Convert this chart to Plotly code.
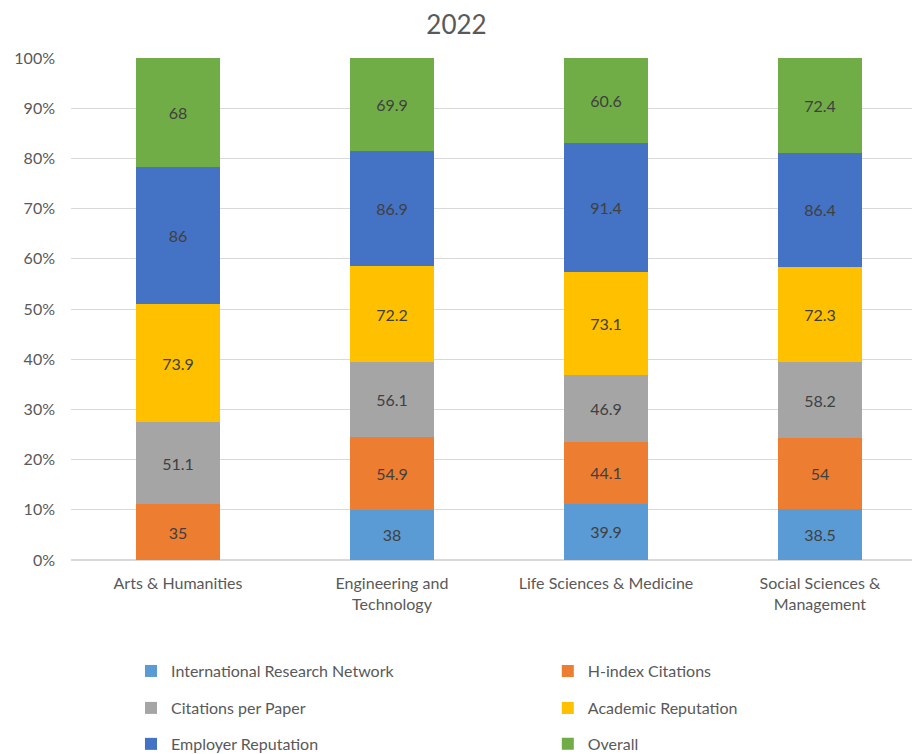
import plotly.graph_objects as go

categories = ["Arts & Humanities", "Engineering and<br>Technology", "Life Sciences & Medicine", "Social Sciences &<br>Management"]
series_names = ["International Research Network", "H-index Citations", "Citations per Paper",
                "Academic Reputation", "Employer Reputation", "Overall"]
irn = [None, 38, 39.9, 38.5]
hindex = [35, 54.9, 44.1, 54]
cpp = [51.1, 56.1, 46.9, 58.2]
acad = [73.9, 72.2, 73.1, 72.3]
employer = [86, 86.9, 91.4, 86.4]
overall = [68, 69.9, 60.6, 72.4]
colors = ["#5B9BD5", "#ED7D31", "#A5A5A5", "#FFC000", "#4472C4", "#70AD47"]
tick_vals = [0, 10, 20, 30, 40, 50, 60, 70, 80, 90, 100]
tick_text = [f"{v}%" for v in tick_vals]

FONT = "Lato"
all_series = [irn, hindex, cpp, acad, employer, overall]
legend_ids = ["legend2", "legend3", "legend4", "legend5", "legend6", "legend7"]
# legend positions (container fractions): two columns, three rows
leg_x = [0.1435, 0.6, 0.1435, 0.6, 0.1435, 0.6]
leg_y = [0.110, 0.110, 0.061, 0.061, 0.0133, 0.0133]

fig = go.Figure()
for name, vals, col, lg in zip(series_names, all_series, colors, legend_ids):
    fig.add_trace(go.Bar(
        x=categories, y=vals, name=name, marker_color=col, marker_line_width=0,
        text=[("" if v is None else f"{v:g}") for v in vals],
        textposition="inside", insidetextanchor="middle",
        textfont=dict(family=FONT, size=16, color="#404040"),
        width=0.39, legend=lg, showlegend=True,
    ))

legend_layout = {}
for lg, lx, ly in zip(legend_ids, leg_x, leg_y):
    legend_layout[lg] = dict(orientation="h", xref="container", yref="container",
                             x=lx, y=ly, xanchor="left", yanchor="middle",
                             font=dict(family=FONT, size=16, color="#595959"),
                             bgcolor="rgba(0,0,0,0)")

fig.update_layout(
    barmode="stack", barnorm="percent",
    width=913, height=754,
    margin=dict(l=71, r=1, t=58, b=194),
    paper_bgcolor="white", plot_bgcolor="white",
    title=dict(text="2022", x=0.5, xanchor="center", y=0.967, yanchor="middle",
               font=dict(family=FONT, size=26, color="#595959")),
    xaxis=dict(range=[-0.5, 3.43], showline=False, ticks="", automargin=False,
               tickfont=dict(family=FONT, size=16, color="#595959"), showgrid=False,
               ticklabelstandoff=12),
    yaxis=dict(range=[0, 100], tickvals=tick_vals, ticktext=tick_text, automargin=False,
               showgrid=True, gridcolor="#D9D9D9", gridwidth=1, zeroline=True,
               zerolinecolor="#D9D9D9", tickfont=dict(family=FONT, size=16, color="#595959"),
               ticklabelstandoff=15),
    **legend_layout,
)
fig.write_html("out.html", config={"displayModeBar": False},
               post_script="document.body.style.margin='0';document.body.style.overflow='hidden';")
